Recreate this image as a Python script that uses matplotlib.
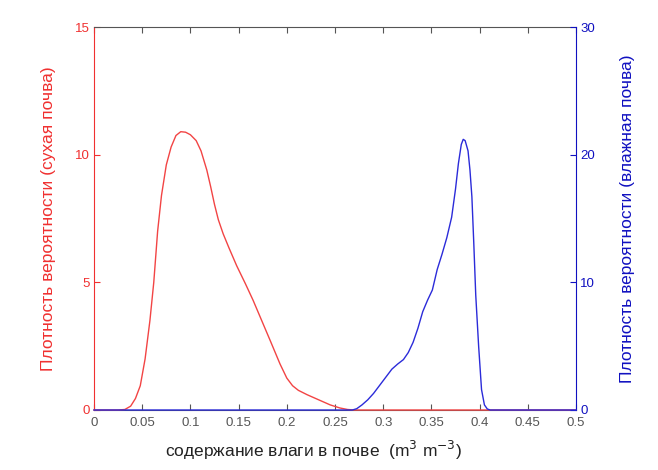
import matplotlib
matplotlib.use("Agg")
import matplotlib.pyplot as plt

plt.rcParams['font.family'] = ['Liberation Sans', 'DejaVu Sans']

# dry soil density (left axis)
red_x = [0, 0.025, 0.032, 0.038, 0.043, 0.048, 0.053, 0.058, 0.062, 0.066, 0.070,
         0.075, 0.080, 0.085, 0.090, 0.095, 0.100, 0.106, 0.111, 0.117, 0.121,
         0.125, 0.129, 0.134, 0.140, 0.148, 0.157, 0.165, 0.174, 0.183, 0.193,
         0.200, 0.206, 0.212, 0.221, 0.233, 0.245, 0.255, 0.263, 0.270, 0.5]
red_y = [0, 0, 0.02, 0.15, 0.45, 0.95, 2.0, 3.5, 5.0, 7.0, 8.4,
         9.6, 10.3, 10.75, 10.9, 10.88, 10.78, 10.55, 10.15, 9.4, 8.75,
         8.05, 7.45, 6.9, 6.35, 5.65, 4.95, 4.3, 3.5, 2.7, 1.8,
         1.25, 0.95, 0.77, 0.6, 0.4, 0.2, 0.08, 0.02, 0, 0]

# wet soil density (right axis)
blue_x = [0, 0.268, 0.2725, 0.278, 0.284, 0.29, 0.297, 0.303, 0.309, 0.315, 0.321,
          0.326, 0.331, 0.336, 0.341, 0.346, 0.351, 0.356, 0.361, 0.366, 0.371,
          0.375, 0.378, 0.381, 0.383, 0.385, 0.388, 0.390, 0.392, 0.394, 0.396,
          0.399, 0.402, 0.405, 0.408, 0.411, 0.5]
blue_y = [0, 0, 0.1, 0.4, 0.8, 1.3, 2.0, 2.6, 3.2, 3.6, 3.95,
          4.5, 5.3, 6.4, 7.7, 8.6, 9.4, 11.0, 12.2, 13.5, 15.1,
          17.3, 19.3, 20.8, 21.2, 21.1, 20.3, 18.8, 16.7, 13.0, 9.0,
          5.0, 1.6, 0.4, 0.08, 0, 0]

xticks = [0, 0.05, 0.1, 0.15, 0.2, 0.25, 0.3, 0.35, 0.4, 0.45, 0.5]
xticklabels = ['0', '0.05', '0.1', '0.15', '0.2', '0.25', '0.3', '0.35', '0.4', '0.45', '0.5']

red = '#f24444'
blue = '#2b2bd9'
red_ax = '#f03030'
blue_ax = '#1010c0'

fig = plt.figure(figsize=(6.58, 4.7), dpi=100)
ax = fig.add_axes([94/658, 60/470, 482/658, 383/470])
ax2 = ax.twinx()

ax.plot(red_x, red_y, color=red, lw=1.0, zorder=3, clip_on=False)
ax2.plot(blue_x, blue_y, color=blue, lw=1.0, zorder=3, clip_on=False)

ax.set_xlim(0, 0.5)
ax.set_ylim(0, 15)
ax2.set_ylim(0, 30)
ax.set_xticks(xticks)
ax.set_xticklabels(xticklabels)
ax.set_yticks([0, 5, 10, 15])
ax2.set_yticks([0, 10, 20, 30])

ax.tick_params(axis='x', direction='in', length=4, colors='#555555', labelsize=9.5,
               top=True, pad=5)
ax.tick_params(axis='y', direction='in', length=4, colors=red_ax, labelsize=9.5, pad=3)
ax2.tick_params(axis='y', direction='in', length=4, colors=blue_ax, labelsize=9.5, pad=3)

ax.spines['top'].set_color('#555555')
ax.spines['bottom'].set_color('#555555')
ax.spines['left'].set_color(red_ax)
ax.spines['right'].set_visible(False)
ax2.spines['top'].set_visible(False)
ax2.spines['bottom'].set_visible(False)
ax2.spines['left'].set_visible(False)
ax2.spines['right'].set_color(blue_ax)
for a in (ax, ax2):
    for s in a.spines.values():
        s.set_linewidth(0.8)

ax.set_xlabel('содержание влаги в почве  (m$^3$ m$^{-3}$)', fontsize=12.5, color='#222222')
ax.xaxis.set_label_coords(0.456, -0.075)
ax.set_ylabel('Плотность вероятности (сухая почва)', fontsize=12.5, color=red_ax, labelpad=14)
ax2.set_ylabel('Плотность вероятности (влажная почва)', fontsize=12.5, color=blue_ax, labelpad=18)

fig.savefig('out.png', dpi=100)
